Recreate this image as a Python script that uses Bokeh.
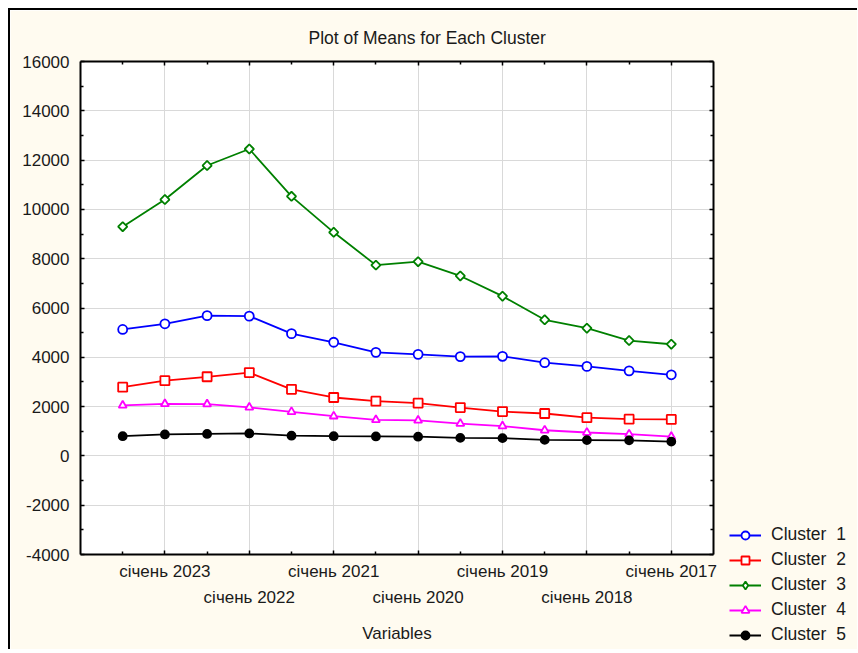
from bokeh.plotting import figure
from bokeh.models import FixedTicker, LinearAxis, Legend, LegendItem, Range1d
from bokeh.embed import file_html
from bokeh.resources import INLINE

# ---- data ----
variables = list(range(1, 15))
tick_positions = [2, 4, 6, 8, 10, 12, 14]
tick_labels = ["січень 2023", "січень 2022", "січень 2021", "січень 2020",
               "січень 2019", "січень 2018", "січень 2017"]
y_ticks = list(range(-4000, 16001, 2000))

cluster1 = [5130, 5360, 5690, 5670, 4960, 4610, 4200, 4120, 4030, 4040, 3780, 3630, 3450, 3290]
cluster2 = [2790, 3050, 3210, 3380, 2700, 2370, 2220, 2140, 1960, 1800, 1720, 1550, 1490, 1480]
cluster3 = [9300, 10400, 11780, 12450, 10530, 9070, 7740, 7880, 7300, 6480, 5520, 5180, 4680, 4530]
cluster4 = [2050, 2110, 2100, 1970, 1790, 1610, 1460, 1440, 1310, 1210, 1040, 950, 880, 780]
cluster5 = [800, 870, 890, 910, 820, 800, 790, 780, 730, 720, 650, 640, 630, 580]

series_names = ["Cluster  1", "Cluster  2", "Cluster  3", "Cluster  4", "Cluster  5"]
series_values = [cluster1, cluster2, cluster3, cluster4, cluster5]
series_colors = ["#0000FF", "#FF0000", "#008000", "#FF00FF", "#000000"]
series_markers = ["circle", "square", "square", "triangle", "circle"]
series_angles = [0, 0, 0.785398, 0, 0]
series_sizes = [9, 9, 6.5, 8, 8]
legend_markers = ["circle", "square", "diamond", "triangle", "circle"]
legend_sizes = [9, 9, 10, 8, 8]
series_fill = ["white", "white", "white", "white", "#000000"]

FONT = "Liberation Sans"
BG = "#FFFBF0"

minor_x = [t for t in variables if t not in tick_positions]
minor_y = list(range(-3000, 16000, 2000))

p = figure(width=715, height=641, output_backend="svg", toolbar_location=None,
           x_range=Range1d(0, 15), y_range=Range1d(-4000, 16000),
           min_border_left=70, min_border_right=12, min_border_top=51, min_border_bottom=97,
           background_fill_color="white", border_fill_color=BG,
           outline_line_color=None)
p.styles = {"margin-left": "8px", "margin-top": "8px",
            "border-top": "2px solid black", "border-left": "2px solid black"}

p.title.text = "Plot of Means for Each Cluster"
p.title.align = "left"
p.title.offset = 228
p.title.text_font = FONT
p.title.text_font_size = "17.5px"
p.title.text_font_style = "normal"
p.title.text_color = "#1a1a1a"
p.title.standoff = 28


def style_axis(ax):
    ax.axis_line_width = 2
    ax.axis_line_color = "black"
    ax.major_tick_in = 4
    ax.major_tick_out = 0
    ax.minor_tick_in = 3
    ax.minor_tick_out = 0
    ax.major_tick_line_color = "black"
    ax.minor_tick_line_color = "black"
    ax.major_tick_line_width = 1.5
    ax.minor_tick_line_width = 1.5
    ax.major_label_text_font = FONT
    ax.major_label_text_font_size = "17px"
    ax.major_label_text_color = "#1a1a1a"
    ax.axis_label_text_font = FONT
    ax.axis_label_text_font_size = "17px"
    ax.axis_label_text_font_style = "normal"
    ax.axis_label_text_color = "#1a1a1a"


# bottom axis, row 1 labels
xa = p.xaxis[0]
xa.ticker = FixedTicker(ticks=tick_positions, minor_ticks=minor_x)
style_axis(xa)
xa.major_label_overrides = {t: (lab if i % 2 == 0 else "")
                            for i, (t, lab) in enumerate(zip(tick_positions, tick_labels))}
xa.major_label_standoff = 7

# bottom axis, row 2 labels
xb = LinearAxis(ticker=FixedTicker(ticks=tick_positions[1::2]))
style_axis(xb)
xb.axis_line_alpha = 0
xb.major_tick_line_alpha = 0
xb.minor_tick_line_alpha = 0
xb.major_label_overrides = {t: lab for t, lab in zip(tick_positions[1::2], tick_labels[1::2])}
xb.major_label_standoff = 4
xb.axis_label = "Variables"
xb.axis_label_standoff = 14
p.add_layout(xb, "below")

# top mirror axis
xt = LinearAxis(ticker=FixedTicker(ticks=tick_positions, minor_ticks=minor_x))
style_axis(xt)
xt.major_label_overrides = {t: "" for t in tick_positions}
xt.major_label_standoff = 0
p.add_layout(xt, "above")

# left axis
ya = p.yaxis[0]
ya.ticker = FixedTicker(ticks=y_ticks, minor_ticks=minor_y)
style_axis(ya)
ya.major_label_overrides = {t: str(t) for t in y_ticks}
ya.major_label_standoff = 11

# right mirror axis
yr = LinearAxis(ticker=FixedTicker(ticks=y_ticks, minor_ticks=minor_y))
style_axis(yr)
yr.major_label_overrides = {t: "" for t in y_ticks}
yr.major_label_standoff = 0
p.add_layout(yr, "right")

p.xgrid.ticker = FixedTicker(ticks=tick_positions)
for g in (p.xgrid, p.ygrid):
    g.grid_line_color = "#D9D9D9"
    g.grid_line_width = 1

# legend panel: a separate root to the right of the chart (series kept out of view there)
lf = figure(width=136, height=641, output_backend="svg", toolbar_location=None,
            x_range=Range1d(100, 101), y_range=Range1d(100, 101),
            min_border=0, x_axis_location=None, y_axis_location=None,
            background_fill_color=BG, border_fill_color=BG, outline_line_color=None)
lf.grid.visible = False
lf.styles = {"position": "absolute", "left": "721px", "top": "8px",
             "border-top": "2px solid black"}

items = []
for name, vals, col, mk, ang, sz, lmk, lsz, fc in zip(series_names, series_values, series_colors,
                                                      series_markers, series_angles, series_sizes,
                                                      legend_markers, legend_sizes, series_fill):
    p.line(variables, vals, line_color=col, line_width=1.8)
    p.scatter(variables, vals, marker=mk, size=sz, angle=ang, line_color=col,
              fill_color=fc, line_width=1.8)
    ln = lf.line(variables, vals, line_color=col, line_width=1.8)
    sc = lf.scatter(variables, vals, marker=lmk, size=lsz, line_color=col,
                    fill_color=fc, line_width=1.8)
    items.append(LegendItem(label=name, renderers=[ln, sc]))

legend = Legend(items=items, location=(8, 6))
legend.padding = 0
legend.margin = 0
legend.spacing = 4
legend.glyph_width = 32
legend.glyph_height = 20
legend.label_height = 20
legend.label_standoff = 10
legend.label_text_font = FONT
legend.label_text_font_size = "17.5px"
legend.label_text_color = "#1a1a1a"
legend.background_fill_alpha = 0
legend.border_line_alpha = 0
lf.add_layout(legend, "center")

open("out.html", "w").write(file_html([p, lf], INLINE))
